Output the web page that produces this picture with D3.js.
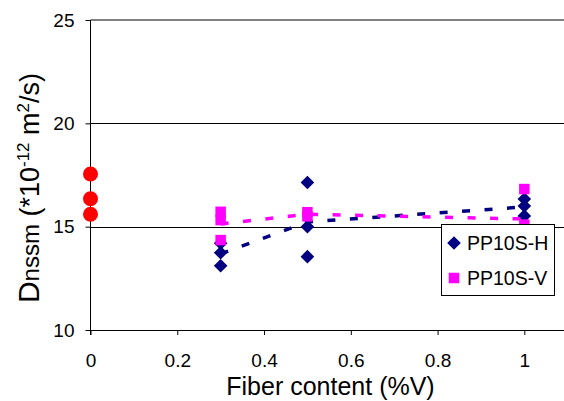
<!DOCTYPE html>
<html>
<head>
<meta charset="utf-8">
<script src="https://cdn.jsdelivr.net/npm/d3@7"></script>
<style>
  html, body { margin: 0; padding: 0; background: #fff; }
  svg { display: block; font-family: "Liberation Sans", Arial, sans-serif; }
</style>
</head>
<body>
<svg id="chart" width="564" height="401"></svg>
<script>
// ---- data ----
const xTickValues = [0, 0.2, 0.4, 0.6, 0.8, 1];
const xTickLabels = ["0", "0.2", "0.4", "0.6", "0.8", "1"];
const yTickValues = [10, 15, 20, 25];
const yTickLabels = ["10", "15", "20", "25"];

const refX = [0, 0, 0];
const refY = [17.55, 16.35, 15.6];

const seriesH = "PP10S-H";
const hX = [0.3, 0.3, 0.3, 0.5, 0.5, 0.5, 1, 1, 1];
const hY = [14.2, 13.74, 13.11, 17.14, 15.0, 13.55, 16.34, 16.0, 15.52];

const seriesV = "PP10S-V";
const vX = [0.3, 0.3, 0.3, 0.5, 0.5, 1, 1, 1];
const vY = [15.72, 15.32, 14.35, 15.7, 15.5, 16.82, 15.1, 14.2];

const xTitle = "Fiber content (%V)";

// ---- layout ----
const svg = d3.select("#chart");
const W = 564, H = 401;
const x = d3.scaleLinear().domain([0, 1.2]).range([90.5, 611.1]);
const y = d3.scaleLinear().domain([10, 25]).range([330, 20]);

const navy = "#000080", magenta = "#FF00FF", red = "#FF0000";

// gridlines
svg.append("g").selectAll("line")
  .data(yTickValues.filter(v => v > 10 && v < 25))
  .join("line")
  .attr("x1", x(0)).attr("x2", W)
  .attr("y1", d => Math.round(y(d)) + 0.5).attr("y2", d => Math.round(y(d)) + 0.5)
  .attr("stroke", "#000").attr("stroke-width", 1);
svg.append("line")
  .attr("x1", x(0)).attr("x2", W)
  .attr("y1", y(25)).attr("y2", y(25))
  .attr("stroke", "#808080").attr("stroke-width", 2);

// axes
const xAxis = d3.axisBottom(x).tickValues(xTickValues)
  .tickFormat((d, i) => xTickLabels[i]).tickSize(5).tickPadding(19).tickSizeOuter(0);
const gx = svg.append("g").attr("transform", `translate(0,${y(10)})`).call(xAxis);
gx.select(".domain").remove();
gx.append("line").attr("x1", x(0)).attr("x2", W).attr("y1", 0.5).attr("y2", 0.5)
  .attr("stroke", "#000");
gx.selectAll(".tick line").attr("stroke", "#000");
gx.selectAll("text").attr("font-size", 19).attr("fill", "#000")
  .attr("font-family", "Liberation Sans, Arial, sans-serif");

const yAxis = d3.axisLeft(y).tickValues(yTickValues)
  .tickFormat((d, i) => yTickLabels[i]).tickSize(5).tickPadding(11).tickSizeOuter(0);
const gy = svg.append("g").attr("transform", `translate(${x(0)},0)`).call(yAxis);
gy.select(".domain").remove();
gy.append("line").attr("x1", 0).attr("x2", 0).attr("y1", y(25)).attr("y2", y(10) + 5)
  .attr("stroke", "#000");
gy.selectAll(".tick line").attr("stroke", "#000");
gy.selectAll("text").attr("font-size", 19).attr("fill", "#000")
  .attr("font-family", "Liberation Sans, Arial, sans-serif");

// titles
svg.append("text")
  .attr("x", 330.5).attr("y", 395)
  .attr("text-anchor", "middle").attr("font-size", 25).attr("fill", "#000")
  .text(xTitle);

const yt = svg.append("text")
  .attr("transform", "translate(39,188) rotate(-90)")
  .attr("text-anchor", "middle").attr("fill", "#000").attr("font-size", 27);
yt.append("tspan").attr("font-size", 30).text("D");
yt.append("tspan").attr("font-size", 24).text("nssm");
yt.append("tspan").text(" (*10");
yt.append("tspan").attr("font-size", 17).attr("dy", -10).text("-12");
yt.append("tspan").attr("dy", 10).text(" m");
yt.append("tspan").attr("font-size", 17).attr("dy", -10).text("2");
yt.append("tspan").attr("dy", 10).text("/s)");

// trend lines (polyline through group means)
function means(xs, ys) {
  return d3.rollups(xs.map((v, i) => [v, ys[i]]), g => d3.mean(g, d => d[1]), d => d[0])
    .sort((a, b) => a[0] - b[0]);
}
const line = d3.line().x(d => x(d[0])).y(d => y(d[1]));

const diamond = r => `M0,${-r}L${r},0L0,${r}L${-r},0Z`;
const square = s => `M${-s/2},${-s/2}h${s}v${s}h${-s}Z`;

// red reference points
svg.append("g").selectAll("circle")
  .data(refX.map((v, i) => [v, refY[i]]))
  .join("circle")
  .attr("cx", d => x(d[0])).attr("cy", d => y(d[1])).attr("r", 7.5)
  .attr("fill", red);

// series H
svg.append("path").datum(means(hX, hY)).attr("d", line)
  .attr("fill", "none").attr("stroke", navy).attr("stroke-width", 3.5)
  .attr("stroke-dasharray", "8,14.5");
svg.append("g").selectAll("path")
  .data(hX.map((v, i) => [v, hY[i]]))
  .join("path")
  .attr("transform", d => `translate(${x(d[0])},${y(d[1])})`)
  .attr("d", diamond(6.8)).attr("fill", navy);

// series V
svg.append("path").datum(means(vX, vY)).attr("d", line)
  .attr("fill", "none").attr("stroke", magenta).attr("stroke-width", 3.5)
  .attr("stroke-dasharray", "8,14.5");
svg.append("g").selectAll("path")
  .data(vX.map((v, i) => [v, vY[i]]))
  .join("path")
  .attr("transform", d => `translate(${x(d[0])},${y(d[1])})`)
  .attr("d", square(10.5)).attr("fill", magenta);

// legend
const lg = svg.append("g");
lg.append("rect").attr("x", 441.5).attr("y", 224.5).attr("width", 113).attr("height", 71)
  .attr("fill", "#fff").attr("stroke", "#000").attr("stroke-width", 1);
const legendItems = [
  { name: seriesH, color: navy, shape: diamond(6.8), cy: 243 },
  { name: seriesV, color: magenta, shape: square(10.5), cy: 278 }
];
legendItems.forEach(it => {
  lg.append("path").attr("transform", `translate(454,${it.cy})`).attr("d", it.shape).attr("fill", it.color);
  lg.append("text").attr("x", 467).attr("y", it.cy + 7).attr("font-size", 19.5)
    .attr("fill", "#000").text(it.name);
});
</script>
</body>
</html>
